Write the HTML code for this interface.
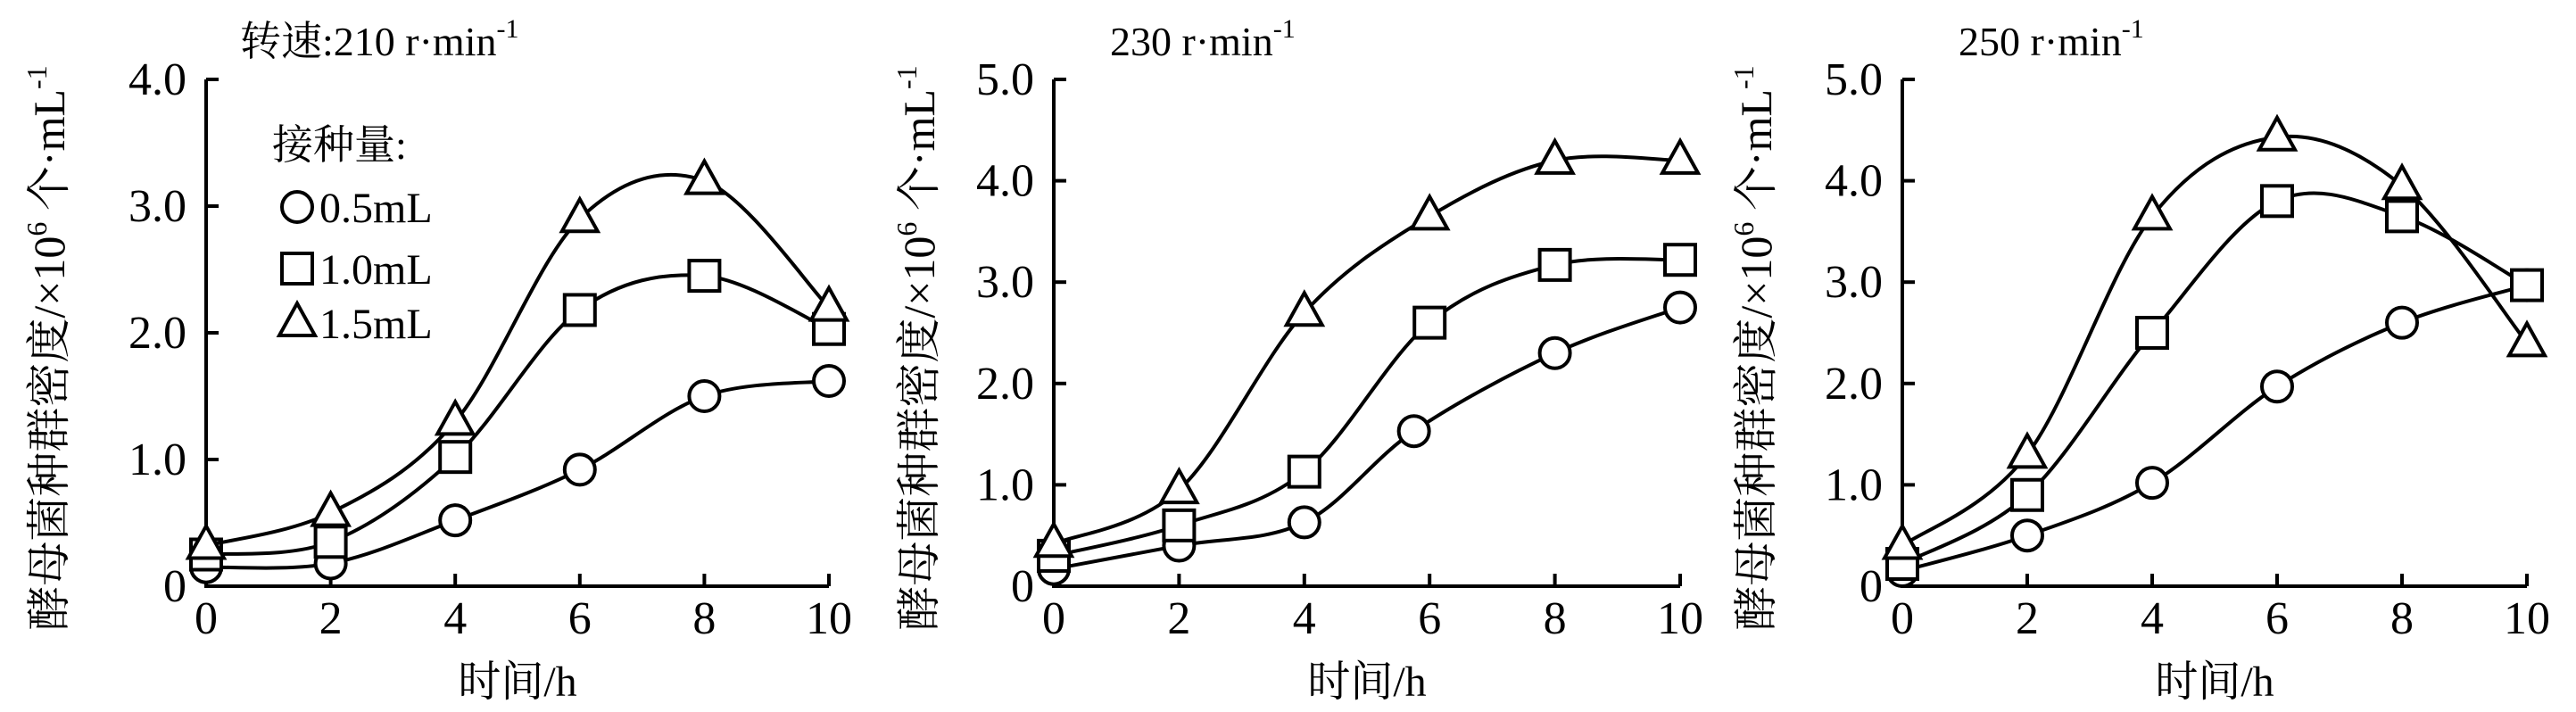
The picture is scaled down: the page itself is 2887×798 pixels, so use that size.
<!DOCTYPE html>
<html><head><meta charset="utf-8">
<style>
html,body{margin:0;padding:0;background:#fff;}
svg{display:block;}
text{font-family:"Liberation Serif","Noto Serif CJK SC","Noto Sans CJK SC",serif;fill:#000;}
</style></head>
<body>
<svg id="fig" width="2887" height="798" viewBox="0 0 2887 798" xmlns="http://www.w3.org/2000/svg"></svg>
<script>
const xValues=[0,2,4,6,8,10];
const xTickLabels=["0","2","4","6","8","10"];
const p1Circle=[0.15,0.18,0.52,0.92,1.5,1.62];
const p1Square=[0.25,0.35,1.02,2.18,2.45,2.03];
const p1Tri=[0.32,0.58,1.3,2.9,3.2,2.2];
const p2CircleX=[0,2,4,5.75,8,10];
const p2Circle=[0.17,0.4,0.63,1.53,2.3,2.75];
const p2Square=[0.3,0.6,1.13,2.6,3.17,3.22];
const p2Tri=[0.42,0.95,2.7,3.65,4.2,4.2];
const p3Circle=[0.15,0.5,1.02,1.97,2.6,2.97];
const p3Square=[0.22,0.9,2.5,3.8,3.65,2.97];
const p3Tri=[0.4,1.3,3.65,4.43,3.95,2.4];
const p1YTicks=[0,1,2,3,4];
const p1YLabels=["0","1.0","2.0","3.0","4.0"];
const p23YTicks=[0,1,2,3,4,5];
const p23YLabels=["0","1.0","2.0","3.0","4.0","5.0"];
const titles=["转速:210 r·min","230 r·min","250 r·min"];

const NS="http://www.w3.org/2000/svg";
const svg=document.getElementById('fig');
function mk(tag,attrs,parent){const e=document.createElementNS(NS,tag);for(const k in attrs)e.setAttribute(k,attrs[k]);(parent||svg).appendChild(e);return e;}

function spline(pts){
  let d=`M${pts[0][0]},${pts[0][1]}`;
  for(let i=0;i<pts.length-1;i++){
    const p0=pts[i-1]||pts[i],p1=pts[i],p2=pts[i+1],p3=pts[i+2]||p2;
    const c1=[p1[0]+(p2[0]-p0[0])/6,p1[1]+(p2[1]-p0[1])/6];
    const c2=[p2[0]-(p3[0]-p1[0])/6,p2[1]-(p3[1]-p1[1])/6];
    d+=` C${c1[0]},${c1[1]} ${c2[0]},${c2[1]} ${p2[0]},${p2[1]}`;
  }
  return d;
}

function panel(cfg){
  const g=mk('g',{});
  
  
  const x0=cfg.ax,x1=cfg.ax10,y0=657,yTop=89,ymax=cfg.ymax;
  const sx=v=>x0+(x1-x0)*v/10;
  const sy=v=>y0-(y0-yTop)*v/ymax;
  const ax=mk('path',{d:`M${x0},${yTop} V${y0} H${x1}`,fill:'none',stroke:'#000','stroke-width':4},g);
  
  
  cfg.yt.forEach((v,i)=>{
    if(v>0){const t=mk('line',{x1:x0,x2:x0+14,y1:sy(v),y2:sy(v),stroke:'#000','stroke-width':4},g);
    
    }
    const l=mk('text',{x:x0-22,y:sy(v)+17,'font-size':52,'text-anchor':'end'},g);
    l.textContent=cfg.yl[i];
    
    
  });
  xValues.forEach((v,i)=>{
    if(v>0){const t=mk('line',{x1:sx(v),x2:sx(v),y1:y0,y2:y0-14,stroke:'#000','stroke-width':4},g);
    
    }
    const l=mk('text',{x:sx(v),y:710,'font-size':52,'text-anchor':'middle'},g);
    l.textContent=xTickLabels[i];
    
    
  });
  const xt=mk('text',{x:(x0+x1)/2,y:780,'font-size':48,'text-anchor':'middle'},g);
  xt.textContent='时间/h';
  
  
  const yt=mk('text',{x:0,y:0,'font-size':50,'text-anchor':'middle',transform:`translate(${cfg.ylx},390) rotate(-90)`},g);
  yt.innerHTML='酵母菌种群密度/×10<tspan dy="-20" font-size="32">6</tspan><tspan dy="20"> 个·mL</tspan><tspan dy="-20" font-size="32">-1</tspan>';
  
  
  const tt=mk('text',{x:cfg.tx,y:62,'font-size':46},g);
  tt.innerHTML=cfg.title+'<tspan dy="-20" font-size="30">-1</tspan>';
  
  
  cfg.series.forEach(s=>{
    const xs=s.xs||xValues;
    const pts=xs.map((v,i)=>[sx(v),sy(s.ys[i])]);
    const p=mk('path',{d:spline(pts),fill:'none',stroke:'#000','stroke-width':4},g);
    
    
    pts.forEach(pt=>{
      const m=marker(s.shape,pt[0],pt[1],g);
      
      
    });
  });
}
function marker(shape,x,y,g){
  const st={fill:'#fff',stroke:'#000','stroke-width':4};
  if(shape==='circle')return mk('circle',Object.assign({cx:x,cy:y,r:17},st),g);
  if(shape==='square')return mk('rect',Object.assign({x:x-17,y:y-17,width:34,height:34},st),g);
  return mk('polygon',Object.assign({points:`${x},${y-22} ${x+20},${y+14} ${x-20},${y+14}`},st),g);
}
panel({name:'panel-210',ax:231,ax10:929,ymax:4,yt:p1YTicks,yl:p1YLabels,ylx:72,tx:269,title:titles[0],
 series:[{name:'0.5ml',shape:'circle',ys:p1Circle},{name:'1.0ml',shape:'square',ys:p1Square},{name:'1.5ml',shape:'tri',ys:p1Tri}]});
panel({name:'panel-230',ax:1181,ax10:1883,ymax:5,yt:p23YTicks,yl:p23YLabels,ylx:1047,tx:1244,title:titles[1],
 series:[{name:'0.5ml',shape:'circle',xs:p2CircleX,ys:p2Circle},{name:'1.0ml',shape:'square',ys:p2Square},{name:'1.5ml',shape:'tri',ys:p2Tri}]});
panel({name:'panel-250',ax:2132,ax10:2832,ymax:5,yt:p23YTicks,yl:p23YLabels,ylx:1985,tx:2195,title:titles[2],
 series:[{name:'0.5ml',shape:'circle',ys:p3Circle},{name:'1.0ml',shape:'square',ys:p3Square},{name:'1.5ml',shape:'tri',ys:p3Tri}]});

// legend
const lg=mk('g',{});


const lt=mk('text',{x:305,y:178,'font-size':46},lg);
lt.textContent='接种量:';


[['circle','0.5mL',232],['square','1.0mL',301],['tri','1.5mL',362]].forEach(e=>{
  const m=marker(e[0],333,e[2],lg);
  
  
  const t=mk('text',{x:358,y:e[2]+17,'font-size':48},lg);
  t.textContent=e[1];
  
  
});
</script>
</body></html>
